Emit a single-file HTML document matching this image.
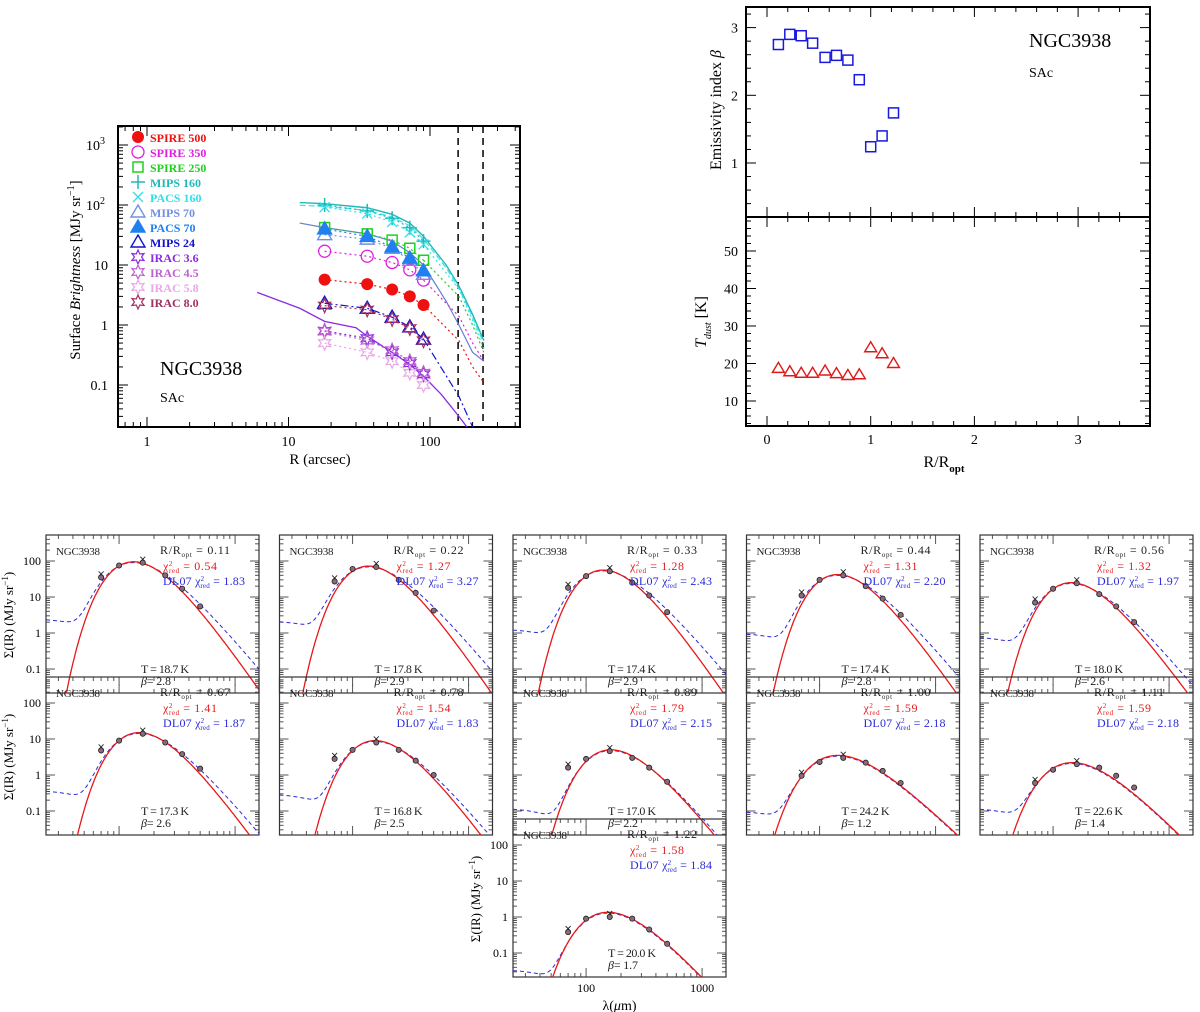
<!DOCTYPE html>
<html><head><meta charset="utf-8"><style>
body{margin:0;background:#fff;}
svg{display:block;font-family:"Liberation Serif",serif;}
</style></head><body>
<svg id="fig" width="1200" height="1012" viewBox="0 0 1200 1012" xmlns="http://www.w3.org/2000/svg"></svg>
<script>
// ---------- Data: radial profiles ----------
const R_pts=[18,36,54,72,90];
const spire500=[5.7,4.8,3.9,3.0,2.15];
const spire350=[17,14,11,8.3,5.6];
const spire250=[42,33,26,19,12];
const mips160=[100,80,60,42,25];
const pacs160=[92,72,52,35,22];
const mips70=[32,27,19,12,7];
const pacs70=[40,30,20,13,8];
const mips24=[2.3,1.9,1.35,0.93,0.58];
const irac36=[0.8,0.6,0.35,0.23,0.15];
const irac45=[0.78,0.55,0.38,0.25,0.16];
const irac58=[0.5,0.35,0.25,0.16,0.1];
const irac80=[2.1,1.8,1.25,0.88,0.55];
const modelR=[12,18,36,54,72,90,130,160,200,240];
const mips160Model=[110,105,90,70,50,30,10,4.5,1.5,0.55];
const pacs70Model=[50,42,33,25,16,10,2.5,1.0,0.35,0.25];
const iracR=[6,12,18,30,36,54,72,90,120,160,200];
const irac36Model=[3.5,1.9,1.15,0.9,0.65,0.35,0.22,0.14,0.07,0.03,0.015];
const extR=[90,160,200,240];
const spire500Ext=[2.15,0.55,0.2,0.11];
const spire350Ext=[5.6,1.4,0.5,0.25];
const spire250Ext=[12,3.0,1.0,0.35];
const pacs160Ext=[22,4,1.2,0.4];
const mips24Ext=[0.58,0.065,0.02,0.01];
const apertures=[158,237];
// ---------- Data: beta & T vs R/Ropt ----------
const rRopt=[0.11,0.22,0.33,0.44,0.56,0.67,0.78,0.89,1.00,1.11,1.22];
const betaVals=[2.75,2.9,2.88,2.77,2.56,2.59,2.52,2.23,1.24,1.40,1.74];
const tVals=[18.7,17.8,17.4,17.4,18.0,17.3,16.8,17.0,24.2,22.6,20.0];
// ---------- Data: SED panels ----------
const betaText=["2.8","2.9","2.9","2.8","2.6","2.6","2.5","2.2","1.2","1.4","1.7"];
const chiMbb=["0.54","1.27","1.28","1.31","1.32","1.41","1.54","1.79","1.59","1.59","1.58"];
const chiDL=["1.83","3.27","2.43","2.20","1.97","1.87","1.83","2.15","2.18","2.18","1.84"];
const sedAmp=[95,72,56,42,25,15,9,5,3.5,2.2,1.35];
const dlPlateau=[2.5,2.2,1.3,1.0,0.8,0.38,0.3,0.12,0.1,0.12,0.035];
const sedWave=[70,100,160,250,350,500];
const sedObs=[
[35,75,90,40,17,5.5],[27,60,68,30,13,4.2],[18,38,52,25,11,3.8],[11,30,40,20,9,3.2],
[7,17,24,12,5.5,2],[4.8,9,14,8,3.8,1.5],[2.8,5,8,5,2.5,1],[1.6,2.8,4.6,3,1.6,0.65],
[0.95,2.3,3.0,2.2,1.3,0.6],[0.6,1.4,2.0,1.6,0.95,0.45],[0.38,0.9,1.0,0.9,0.45,0.18]];

const NS="http://www.w3.org/2000/svg";
const svg=document.getElementById('fig');
function el(tag,attrs,parent){const e=document.createElementNS(NS,tag);for(const k in attrs)e.setAttribute(k,attrs[k]);(parent||svg).appendChild(e);return e;}
function txt(x,y,s,size,parent,extra){const t=el('text',Object.assign({x:x,y:y,'font-size':size},extra||{}),parent);t.textContent=s;return t;}
const L=Math.log10;

// ===== Panel A: radial profiles =====
const gA=el('g',{});


const ax={l:118,r:520,t:126,b:427};
const X=R=>147+L(R)*141.5, Y=v=>325-L(v)*60;
const cpA=el('clipPath',{id:'clipA'},gA);
el('rect',{x:ax.l,y:ax.t,width:ax.r-ax.l,height:ax.b-ax.t},cpA);
for(let d=-1;d<=2;d++)for(let m=1;m<10;m++){const v=m*Math.pow(10,d);const x=X(v);if(x<ax.l||x>ax.r)continue;const len=m==1?10:5;
 el('line',{x1:x,y1:ax.b,x2:x,y2:ax.b-len,stroke:'#000','stroke-width':1},gA);el('line',{x1:x,y1:ax.t,x2:x,y2:ax.t+len,stroke:'#000','stroke-width':1},gA);}
for(let d=-2;d<=3;d++)for(let m=1;m<10;m++){const v=m*Math.pow(10,d);const y=Y(v);if(y<ax.t||y>ax.b)continue;const len=m==1?10:5;
 el('line',{x1:ax.l,y1:y,x2:ax.l+len,y2:y,stroke:'#000','stroke-width':1},gA);el('line',{x1:ax.r,y1:y,x2:ax.r-len,y2:y,stroke:'#000','stroke-width':1},gA);}
el('rect',{x:ax.l,y:ax.t,width:ax.r-ax.l,height:ax.b-ax.t,fill:'none',stroke:'#000','stroke-width':2},gA);
[["1",1],["10",10],["100",100]].forEach(([s,v])=>{const t=txt(X(v),446,s,14,gA,{'text-anchor':'middle'});});
[[1000,"3"],[100,"2"]].forEach(([v,e])=>{const t=txt(105,Y(v)+5,"10",14,gA,{'text-anchor':'end'});const s=el('tspan',{dy:-6,'font-size':10},t);s.textContent=e;});
[["10",10],["1",1],["0.1",0.1]].forEach(([s,v])=>{const t=txt(108,Y(v)+5,s,14,gA,{'text-anchor':'end'});});
let xt=txt(320,464,"R (arcsec)",15,gA,{'text-anchor':'middle'});
let yt=el('text',{x:0,y:0,'font-size':15,'text-anchor':'middle',transform:'translate(80,270) rotate(-90)'},gA);
yt.innerHTML='Surface <tspan font-style="italic">Brightness</tspan> [MJy sr<tspan dy="-6" font-size="10">−1</tspan><tspan dy="6">]</tspan>';

let ng=txt(160,375,"NGC3938",20,gA);
let sa=txt(160,402,"SAc",14,gA);
apertures.forEach(a=>{const l=el('line',{x1:X(a),x2:X(a),y1:ax.t,y2:ax.b,stroke:'#000','stroke-width':1.5,'stroke-dasharray':'7,5'},gA);});
const cg=el('g',{'clip-path':'url(#clipA)'},gA);
function line(Rs,vs,color,dash,w,name){const p=el('polyline',{points:Rs.map((r,i)=>X(r)+','+Y(vs[i])).join(' '),fill:'none',stroke:color,'stroke-width':w||1.2,'stroke-dasharray':dash||'none'},cg);}
function marker(type,x,y,color,g){const s=6;let e;
 if(type=='fcirc')e=el('circle',{cx:x,cy:y,r:s,fill:color},g);
 else if(type=='ocirc')e=el('circle',{cx:x,cy:y,r:s,fill:'none',stroke:color,'stroke-width':1.3},g);
 else if(type=='sq')e=el('rect',{x:x-5,y:y-5,width:10,height:10,fill:'none',stroke:color,'stroke-width':1.5},g);
 else if(type=='plus')e=el('path',{d:`M${x-7},${y}H${x+7}M${x},${y-7}V${y+7}`,stroke:color,'stroke-width':1.5},g);
 else if(type=='cross')e=el('path',{d:`M${x-5},${y-5}L${x+5},${y+5}M${x-5},${y+5}L${x+5},${y-5}`,stroke:color,'stroke-width':1.3},g);
 else if(type=='otri'||type=='ftri')e=el('path',{d:`M${x},${y-7}L${x+7},${y+5}L${x-7},${y+5}Z`,fill:type=='ftri'?color:'none',stroke:color,'stroke-width':1.4},g);
 else if(type=='star'){let d='';for(let i=0;i<12;i++){const a=Math.PI*i/6-Math.PI/2,r=i%2?3.5:7;d+=(i?'L':'M')+(x+r*Math.cos(a)).toFixed(1)+','+(y+r*Math.sin(a)).toFixed(1);}e=el('path',{d:d+'Z',fill:'none',stroke:color,'stroke-width':1.2},g);}
 return e;}
const series=[
 ["SPIRE 500",spire500,'#f01010','fcirc',spire500Ext],
 ["SPIRE 350",spire350,'#e020e0','ocirc',spire350Ext],
 ["SPIRE 250",spire250,'#20d020','sq',spire250Ext],
 ["MIPS 160",mips160,'#20b8b8','plus',null],
 ["PACS 160",pacs160,'#30e0e8','cross',pacs160Ext],
 ["MIPS 70",mips70,'#7090e0','otri',null],
 ["PACS 70",pacs70,'#2080f0','ftri',null],
 ["MIPS 24",mips24,'#1010d0','otri',mips24Ext],
 ["IRAC 3.6",irac36,'#8a2be2','star',null],
 ["IRAC 4.5",irac45,'#c060d0','star',null],
 ["IRAC 5.8",irac58,'#e8a8e8','star',null],
 ["IRAC 8.0",irac80,'#a03060','star',null]];
line(modelR,mips160Model,'#20b8b8','none',1.4,'mips160-model-line');
line(modelR,mips160Model.map(v=>v*0.9),'#40e0e8','6,3',1.2,'pacs160-model-line');
line(modelR,pacs70Model,'#6080d0','none',1.2,'pacs70-model-line');
line(iracR,irac36Model,'#8a2be2','none',1.3,'irac36-model-line');
series.forEach(([name,vals,color,type,ext],k)=>{
 const dash=name=="MIPS 24"?'8,3,2,3':'2,3';
 line(R_pts,vals,color,dash,1.2,name.toLowerCase().replace(/ /g,'').replace('.','')+'-profile-line');
 if(ext)line(extR,ext,color,dash,1.2,'profile-extension');
 vals.forEach((v,i)=>{const m=marker(type,X(R_pts[i]),Y(v),color,cg);});
 const ly=141+k*15;
 const lm=marker(type,138,ly-4,color,gA);
 const lt=txt(150,ly+1,name,12,gA,{fill:color,'font-weight':'bold'});
});

// ===== Panel B: beta & T =====
const gB=el('g',{});


const bx={l:746,r:1150,t:7,m:217,b:426};
const XB=r=>767+103.7*r, YB=b=>163-(b-1)*67.7, YT=t=>401-(t-10)*3.75;
for(let v=-0.2;v<=3.6;v+=0.2){const x=XB(v);if(x<bx.l+1||x>bx.r-1)continue;const maj=Math.abs(v-Math.round(v))<0.01;const len=maj?10:5;
 [bx.t,bx.m,bx.b].forEach((yy,i)=>{if(i!=0)el('line',{x1:x,x2:x,y1:yy,y2:yy-len,stroke:'#000'},gB);if(i!=2)el('line',{x1:x,x2:x,y1:yy,y2:yy+len,stroke:'#000'},gB);});}
for(let b=0.4;b<=3.3;b+=0.2){const y=YB(b);if(y<bx.t||y>bx.m)continue;const len=Math.abs(b-Math.round(b))<0.01?10:5;
 el('line',{x1:bx.l,x2:bx.l+len,y1:y,y2:y,stroke:'#000'},gB);el('line',{x1:bx.r,x2:bx.r-len,y1:y,y2:y,stroke:'#000'},gB);}
for(let t=4;t<=58;t+=2){const y=YT(t);if(y<bx.m||y>bx.b)continue;const len=t%10==0?10:5;
 el('line',{x1:bx.l,x2:bx.l+len,y1:y,y2:y,stroke:'#000'},gB);el('line',{x1:bx.r,x2:bx.r-len,y1:y,y2:y,stroke:'#000'},gB);}
el('rect',{x:bx.l,y:bx.t,width:bx.r-bx.l,height:bx.b-bx.t,fill:'none',stroke:'#000','stroke-width':2},gB);
el('line',{x1:bx.l,x2:bx.r,y1:bx.m,y2:bx.m,stroke:'#000','stroke-width':2},gB);
[0,1,2,3].forEach(v=>{const t=txt(XB(v),444,String(v),14,gB,{'text-anchor':'middle'});});
[1,2,3].forEach(v=>{const t=txt(738,YB(v)+5,String(v),14,gB,{'text-anchor':'end'});});
[10,20,30,40,50].forEach(v=>{const t=txt(738,YT(v)+5,String(v),14,gB,{'text-anchor':'end'});});
let bt=el('text',{'font-size':16,'text-anchor':'middle',transform:'translate(721,110) rotate(-90)'},gB);
bt.innerHTML='Emissivity index <tspan font-style="italic">β</tspan>';
let tt=el('text',{'font-size':16,'text-anchor':'middle',transform:'translate(706,322) rotate(-90)'},gB);
tt.innerHTML='<tspan font-style="italic">T</tspan><tspan dy="5" font-size="10" font-style="italic">dust</tspan><tspan dy="-5">  [K]</tspan>';
let rt=el('text',{x:944,y:467,'font-size':16,'text-anchor':'middle'},gB);
rt.innerHTML='R/R<tspan dy="5" font-size="11" font-weight="bold">opt</tspan>';
let n2=txt(1029,47,"NGC3938",20,gB);
let s2=txt(1029,77,"SAc",14,gB);
rRopt.forEach((r,i)=>{
 const q=el('rect',{x:XB(r)-5,y:YB(betaVals[i])-5,width:10,height:10,fill:'none',stroke:'#1818e0','stroke-width':1.5},gB);
 
 const x=XB(r),y=YT(tVals[i]);
 const tr=el('path',{d:`M${x},${y-6}L${x+6},${y+4}L${x-6},${y+4}Z`,fill:'none',stroke:'#e01818','stroke-width':1.4},gB);
 
});

// ===== SED panels =====
const colX=[46,279.5,513,746.5,980], rowY=[535,677,819];
const W=213,H=158;
const pos=[[0,0],[1,0],[2,0],[3,0],[4,0],[0,1],[1,1],[2,1],[3,1],[4,1],[2,2]];
function mbb(lam,T,b){return Math.pow(lam,-(3+b))/(Math.exp(14388/(lam*T))-1);}
function peakX(b){let x=3+b;for(let i=0;i<50;i++)x=(3+b)*(1-Math.exp(-x));return x;}
pos.forEach(([c,r],k)=>{
 const x0=colX[c],y0=rowY[r];
 const g=el('g',{});
 
 
 const PX=l=>x0+(L(l)-1.37)*116, PY=v=>y0+26+(2-L(v))*36;
 const cid='clipS'+k;const cp=el('clipPath',{id:cid},g);el('rect',{x:x0,y:y0,width:W,height:H},cp);
 for(let d=1;d<=3;d++)for(let m=1;m<10;m++){const v=m*Math.pow(10,d);const x=PX(v);if(x<x0+1||x>x0+W-1)continue;const len=m==1?9:4;
  el('line',{x1:x,x2:x,y1:y0+H,y2:y0+H-len,stroke:'#555'},g);el('line',{x1:x,x2:x,y1:y0,y2:y0+len,stroke:'#555'},g);}
 for(let d=-2;d<=2;d++)for(let m=1;m<10;m++){const v=m*Math.pow(10,d);const y=PY(v);if(y<y0+1||y>y0+H-1)continue;const len=m==1?9:4;
  el('line',{x1:x0,x2:x0+len,y1:y,y2:y,stroke:'#555'},g);el('line',{x1:x0+W,x2:x0+W-len,y1:y,y2:y,stroke:'#555'},g);}
 el('rect',{x:x0,y:y0,width:W,height:H,fill:'none',stroke:'#333','stroke-width':1.2},g);
 if(c==0||(c==2&&r==2)){
  [["100",100],["10",10],["1",1],["0.1",0.1]].forEach(([s,v])=>{const t=txt(x0-5,PY(v)+4,s,12,g,{'text-anchor':'end'});});
  const yl=el('text',{'font-size':13,'text-anchor':'middle',transform:`translate(${x0-33},${y0+80}) rotate(-90)`},g);
  yl.innerHTML='Σ(IR) (MJy sr<tspan dy="-5" font-size="9">−1</tspan><tspan dy="5">)</tspan>';
  
 }
 if(r==2){
  [["100",100],["1000",1000]].forEach(([s,v])=>{const t=txt(PX(v),y0+H+15,s,12,g,{'text-anchor':'middle'});});
  const xl=el('text',{x:x0+W/2,y:y0+H+33,'font-size':14,'text-anchor':'middle'},g);
  xl.innerHTML='λ(<tspan font-style="italic">μ</tspan>m)';
 }
 const cg2=el('g',{'clip-path':`url(#${cid})`},g);
 const T=tVals[k],b=parseFloat(betaText[k]);
 const lams=[];for(let i=0;i<=160;i++)lams.push(Math.pow(10,1.37+i*(1.85/160)));
 let mx=0;lams.forEach(l=>mx=Math.max(mx,mbb(l,T,b)));
 const red=lams.map(l=>sedAmp[k]*mbb(l,T,b)/mx);
 const bb=Math.min(b,2.0), Tb=T*peakX(b)/peakX(bb);
 let mx2=0;lams.forEach(l=>mx2=Math.max(mx2,mbb(l,Tb,bb)));
 const blue=lams.map(l=>0.95*sedAmp[k]*mbb(l,Tb,bb)/mx2+dlPlateau[k]/(1+Math.pow(l/55,3)));
 const pb=el('polyline',{points:lams.map((l,i)=>PX(l).toFixed(1)+','+PY(blue[i]).toFixed(1)).join(' '),fill:'none',stroke:'#2a2ad8','stroke-width':1,'stroke-dasharray':'4,3'},cg2);
 
 const pr=el('polyline',{points:lams.map((l,i)=>PX(l).toFixed(1)+','+PY(Math.max(red[i],1e-4)).toFixed(1)).join(' '),fill:'none',stroke:'#e81818','stroke-width':1.3},cg2);
 
 sedObs[k].forEach((v,i)=>{const x=PX(sedWave[i]),y=PY(v);
  if(i==0||i==2){const cr=el('path',{d:`M${x-2.5},${y-6}l5,5M${x+2.5},${y-6}l-5,5`,stroke:'#222','stroke-width':0.9},cg2);}
  const ci=el('circle',{cx:x,cy:y,r:2.6,fill:'#8a6a7a',stroke:'#222','stroke-width':0.8},cg2);});
 const lab=(x,y,html,size,fill,name,len)=>{const a={x:x,y:y,'font-size':size,fill:fill};if(len){a.textLength=len;a.lengthAdjust='spacing';}const t=el('text',a,g);t.innerHTML=html;};
 lab(x0+10,y0+20,'NGC3938',11,'#222','sed-galaxy-name',44);
 lab(x0+114,y0+19,'R/R<tspan dy="3" font-size="7">opt</tspan><tspan dy="-3">  =  '+rRopt[k].toFixed(2)+'</tspan>',12,'#222','sed-radius-label',70);
 lab(x0+117,y0+35,'χ<tspan dy="-4" font-size="7">2</tspan><tspan dx="-4" dy="7" font-size="7">red</tspan><tspan dy="-3">  =  '+chiMbb[k]+'</tspan>',12,'#e81818','mbb-chi2-label',54);
 lab(x0+117,y0+50,'DL07 χ<tspan dy="-4" font-size="7">2</tspan><tspan dx="-4" dy="7" font-size="7">red</tspan><tspan dy="-3">  =  '+chiDL[k]+'</tspan>',12,'#2a2ad8','dl07-chi2-label',82);
 lab(x0+95,y0+138,'T  =  '+T.toFixed(1)+'  K',12,'#222','temperature-label',48);
 lab(x0+95,y0+150,'<tspan font-style="italic">β</tspan>=  '+betaText[k],12,'#222','beta-label',30);
});
</script>
</body></html>
